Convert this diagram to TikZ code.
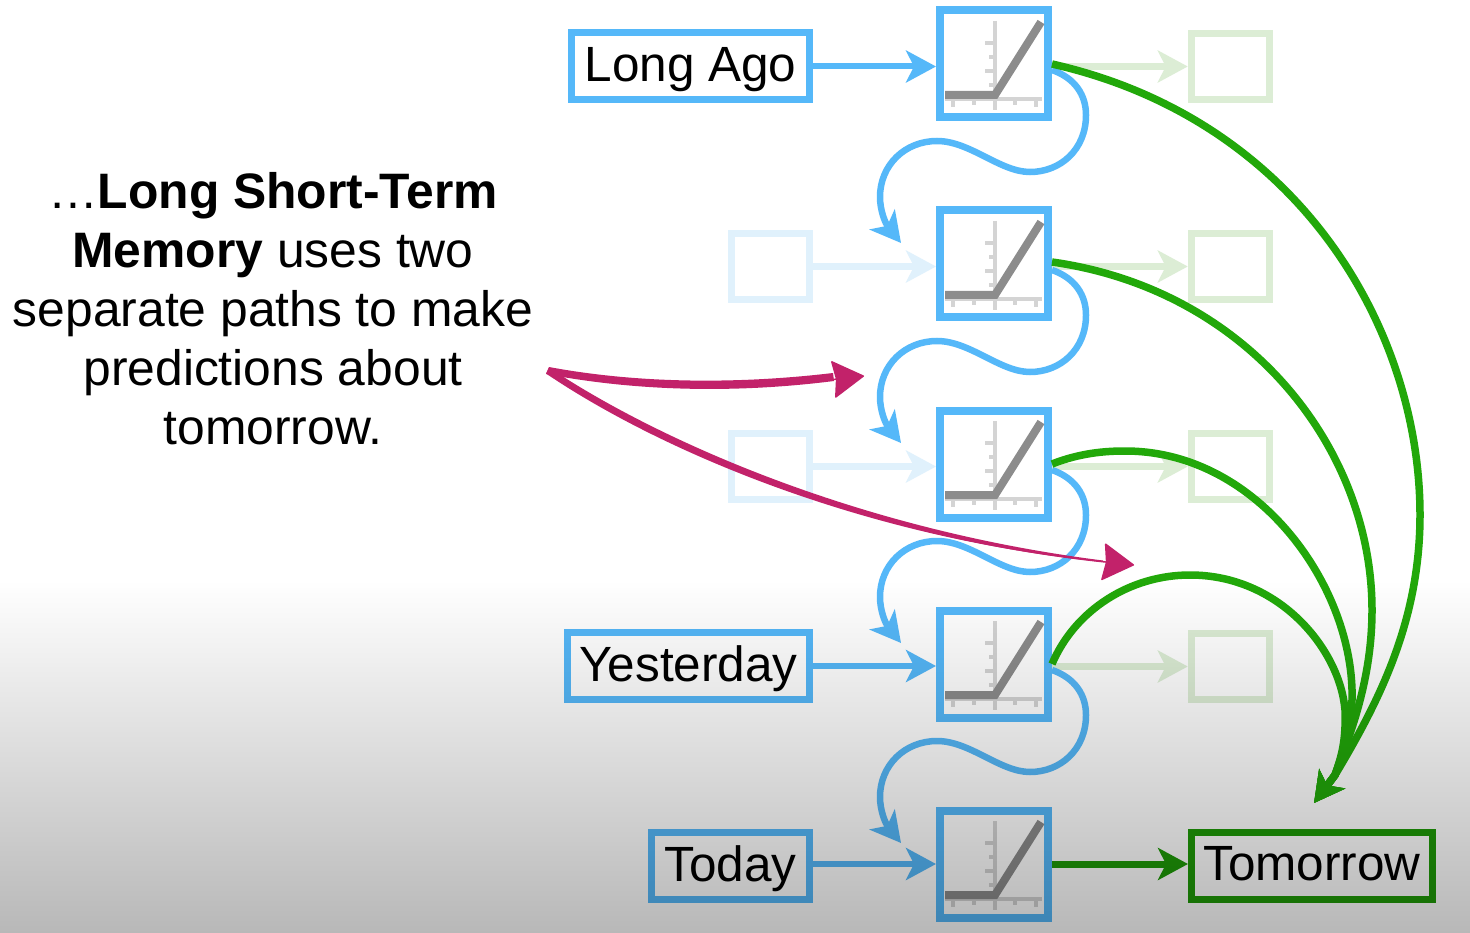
\documentclass[tikz,border=0pt]{standalone}
\usepackage{fontspec}
\setmainfont{Liberation Sans}
\usetikzlibrary{arrows.meta}
\definecolor{bl}{HTML}{55B8F9}
\definecolor{blg}{HTML}{E0F1FC}
\definecolor{gr}{HTML}{22A80A}
\definecolor{grd}{HTML}{1F9A08}
\definecolor{grg}{HTML}{DCEDD5}
\definecolor{mg}{HTML}{C2226A}
\definecolor{bot}{HTML}{B8B8B8}
\tikzset{
  labelbox/.style={draw=bl,line width=7pt,inner sep=0pt,outer sep=auto,minimum height=67pt,text height=40pt,text depth=10pt,font=\fontsize{49.5}{50}\selectfont},
  graphbox/.style={draw=bl,line width=8pt,inner sep=0pt,minimum width=108pt,minimum height=107pt},
  ghostb/.style={draw=blg,line width=7pt,inner sep=0pt,minimum width=78.5pt,minimum height=66.5pt},
  ghostg/.style={draw=grg,line width=7pt,inner sep=0pt,minimum width=78.5pt,minimum height=66.5pt},
  head/.style={-{Stealth[length=30pt,width=32pt,inset=8pt]}},
  bluearrow/.style={head,draw=bl,line width=6pt},
  ghostbarrow/.style={head,draw=blg,line width=6.5pt},
  ghostgarrow/.style={head,draw=grg,line width=7pt},
  wave/.style={head,draw=bl,line width=6.5pt},
  greenarc/.style={head,draw=gr,line width=7.5pt},
  magarrow/.style={-{Stealth[length=32pt,width=38pt,inset=3pt,round]},draw=mg,line width=1.5pt},
  relu/.pic={
    \draw[line width=4pt,draw=black!17] (1,-43) -- (1,46) (-49,35) -- (48,35);
    \foreach \yy/\xx in {-21/-9,-7/-5,7/-9,21/-5}{\draw[line width=4pt,draw=black!17] (\xx,\yy) -- (1,\yy);}
    \foreach \xx/\yy in {-41/43,-20/41,21/41,42/43}{\draw[line width=4pt,draw=black!17] (\xx,35) -- (\xx,\yy);}
    \draw[line width=8pt,draw=black!45,line join=miter] (-49,31) -- (1,31) -- (47,-42);
  }
}
\begin{document}
\begin{tikzpicture}[x=1pt,y=-1pt]
\useasboundingbox (0,0) rectangle (1470,933);
\fill[white] (0,0) rectangle (1470,933);

% caption
\node[align=center,font=\fontsize{49.8}{59}\selectfont] (cap) at (273,309)
 {…\textbf{Long Short-Term}\\ \textbf{Memory} uses two\\ separate paths to make\\ predictions about\\ tomorrow.};

% row boxes
\node[graphbox] (g0) at (994,64) {};
\node[graphbox] (g1) at (994,264) {};
\node[graphbox] (g2) at (994,464) {};
\node[graphbox] (g3) at (994,664) {};
\node[graphbox] (g4) at (994,864) {};
\foreach \n in {g0,g1,g2,g3,g4}{\pic at (\n.center) {relu};}

\node[labelbox,minimum width=238pt] (la) at (690.5,66.5) {Long Ago};
\node[ghostb] (b1) at (770.5,266.5) {};
\node[ghostb] (b2) at (770.5,466.5) {};
\node[labelbox,minimum width=242pt] (ye) at (688.5,666) {Yesterday};
\node[labelbox,minimum width=158pt] (to) at (730.5,866) {Today};

\node[ghostg] (r0) at (1230.5,66.5) {};
\node[ghostg] (r1) at (1230.5,266.5) {};
\node[ghostg] (r2) at (1230.5,466.5) {};
\node[ghostg] (r3) at (1230.5,666.5) {};
\node[labelbox,draw=grd,minimum width=241pt] (tm) at (1312,865.5) {Tomorrow};

% faded arrows
\draw[ghostbarrow] (b1.east) -- (b1.east -| g1.west);
\draw[ghostbarrow] (b2.east) -- (b2.east -| g2.west);
\foreach \a/\b in {g0/r0,g1/r1,g2/r2,g3/r3}{
  \draw[ghostgarrow] (\a.east |- \b.west) -- (\b.west);
}

% blue arrows
\draw[bluearrow] (la.east) -- (la.east -| g0.west);
\draw[bluearrow] (ye.east) -- (ye.east -| g3.west);
\draw[bluearrow] (g4.west -| to.east) -- (g4.west);

% waves
\foreach \a/\b/\o in {g0/g1/0,g1/g2/200,g2/g3/400,g3/g4/600}{
  \begin{scope}[shift={(0,\o)}]
  \coordinate (w\a) at (901,243);
  \draw[wave] ([yshift=-6pt]\a.east) .. controls +(23,8) and (1086,95) .. (1086,115)
     .. controls (1086,150) and (1060,172) .. (1030,172)
     .. controls (1000,172) and (970,141) .. (937,141)
     .. controls (905,141) and (880,165) .. (880,197)
     .. controls (880,210) and (885,223) .. (w\a);
  \end{scope}
}

% green
\coordinate (tip) at (1314,803);
\draw[greenarc] (g0.east) .. controls (1300,120) and (1420,330) .. (1420,515)
   .. controls (1420,620) and (1380,700) .. (1335,775) -- (tip);
\draw[greenarc] ([yshift=2pt]g1.east) .. controls (1250,290) and (1372,450) .. (1372,610)
   .. controls (1372,680) and (1350,735) .. (1335,775) -- (tip);
\draw[greenarc] (g2.east) .. controls (1080,453) and (1105,451) .. (1125,451)
   .. controls (1260,451) and (1355,590) .. (1352,700)
   .. controls (1350,735) and (1342,755) .. (1335,775) -- (tip);
\draw[greenarc] (g3.east) .. controls (1075,610) and (1130,575) .. (1190,575)
   .. controls (1280,575) and (1340,650) .. (1345,710)
   .. controls (1346,740) and (1342,755) .. (1335,775) -- (tip);
\draw[head,draw=grd,line width=7pt] (g4.east) -- (g4.east -| tm.west);

% magenta
\coordinate (msrc) at (548,371);
\coordinate (ma) at (864,376);
\coordinate (mb) at (1134,565);
\fill[mg] (546,374) .. controls (640,392) and (740,393) .. (834,381)
  -- (833,373) .. controls (740,384) and (640,384) .. (549,367) -- cycle;
\fill[mg] (546,373.5) .. controls (650,444) and (850,536) .. (1103,562)
  -- (1103,560.5) .. controls (853,529) and (653,437) .. (549,367.5) -- cycle;
\draw[magarrow] (msrc) .. controls (640,388) and (740,390) .. (ma);
\draw[magarrow] (msrc) .. controls (650,440) and (850,535) .. (mb);

% shading of the lower part
\begin{scope}[blend mode=multiply]
\shade[top color=white,bottom color=bot] (0,580) rectangle (1470,933);
\end{scope}
\end{tikzpicture}
\end{document}
